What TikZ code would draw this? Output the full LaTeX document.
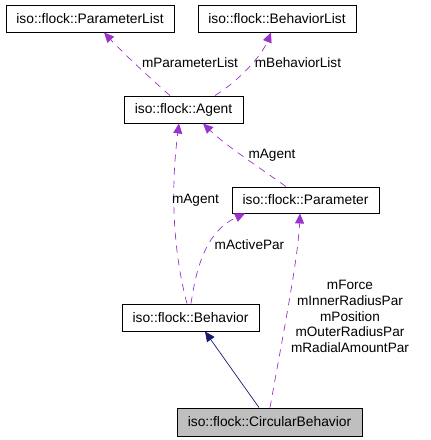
\documentclass[tikz,border=0pt]{standalone}
\usepackage{fontspec}
\setmainfont{Liberation Sans}
\usetikzlibrary{arrows.meta,calc}
\definecolor{assoc}{HTML}{9A32CD}
\definecolor{inher}{HTML}{191970}
\definecolor{cbfill}{HTML}{BFBFBF}
\begin{document}
\begin{tikzpicture}[x=1pt,y=-1pt,
  cls/.style={draw=black,line width=0.9pt,inner sep=0pt,font=\fontsize{13.8}{16}\selectfont},
  uses/.style={draw=assoc,line width=0.7pt,dash pattern=on 7pt off 6pt,-{Triangle[length=10pt,width=9pt,fill=assoc]}},
  isa/.style={draw=inher,line width=0.7pt,-{Triangle[length=10pt,width=9pt,fill=inher]}},
  lbl/.style={inner sep=0pt,font=\fontsize{13.6}{15.7}\selectfont}]
\useasboundingbox (0,0) rectangle (431,440);
\node[cls,minimum width=168pt,minimum height=27pt] (PL) at (90,18.5) {iso::flock::ParameterList};
\node[cls,minimum width=158pt,minimum height=27pt] (BL) at (277,18.5) {iso::flock::BehaviorList};
\node[cls,minimum width=119pt,minimum height=27pt] (A) at (183.5,109.5) {iso::flock::Agent};
\node[cls,minimum width=147pt,minimum height=26pt] (P) at (305.5,200) {iso::flock::Parameter};
\node[cls,minimum width=137pt,minimum height=27pt] (B) at (190.5,317.5) {iso::flock::Behavior};
\node[cls,fill=cbfill,minimum width=185pt,minimum height=28pt] (CB) at (269.5,422) {iso::flock::CircularBehavior};
% associations
\draw[uses] ([xshift=-13.5pt]A.north) .. controls (150,78) and (125,55) .. ([xshift=14pt]PL.south);
\draw[uses] ([xshift=31.5pt]A.north) .. controls (240,80) and (262,55) .. ([xshift=-6pt]BL.south);
\draw[uses] ([xshift=-3.5pt]B.north) .. controls (178,270) and (168,210) .. ([xshift=-4.5pt]A.south);
\draw[uses] ([xshift=-19.5pt]P.north) .. controls (260,168) and (225,145) .. ([xshift=19.5pt]A.south);
\draw[uses] ([xshift=0.5pt]B.north) .. controls (196,270) and (205,232) .. ([xshift=-60.5pt]P.south);
\draw[uses] ([xshift=0.5pt]CB.north) .. controls (282,340) and (298,260) .. ([xshift=-5.5pt]P.south);
% inheritance
\draw[isa] ([xshift=-10.5pt]CB.north) -- ([xshift=14.5pt]B.south);
% labels
\node[lbl] (l1) at (190,63) {mParameterList};
\node[lbl] (l2) at (298,63) {mBehaviorList};
\node[lbl] (l3) at (272,155) {mAgent};
\node[lbl] (l4) at (195.5,200) {mAgent};
\node[lbl] (l5) at (249.5,245) {mActivePar};
\node[lbl,align=center] (l6) at (350,316.5) {mForce\\mInnerRadiusPar\\mPosition\\mOuterRadiusPar\\mRadialAmountPar};
\end{tikzpicture}
\end{document}
